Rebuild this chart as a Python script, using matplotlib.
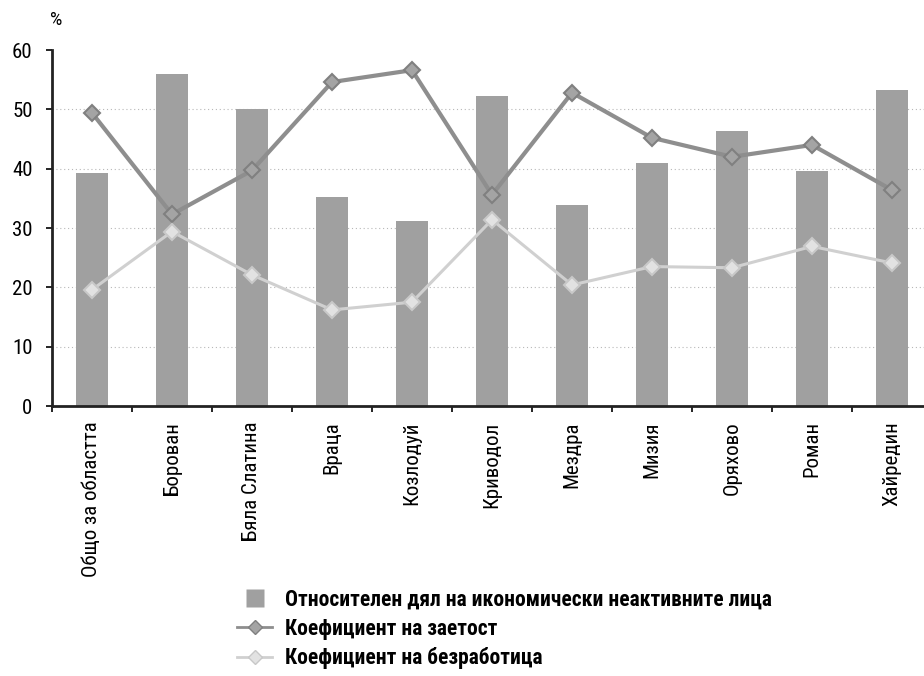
import numpy as np
import matplotlib
matplotlib.use("Agg")
import matplotlib.pyplot as plt
from matplotlib.lines import Line2D

plt.rcParams['font.family'] = ['Roboto Condensed', 'DejaVu Sans']

# municipalities
categories = ["Общо за областта", "Борован", "Бяла Слатина", "Враца", "Козлодуй",
              "Криводол", "Мездра", "Мизия", "Оряхово", "Роман", "Хайредин"]
# relative share of economically inactive people, %
inactive = [39.2, 56.0, 50.1, 35.3, 31.2, 52.2, 33.8, 41.0, 46.3, 39.6, 53.3]
# employment rate, %
employment = [49.4, 32.3, 39.7, 54.6, 56.6, 35.6, 52.8, 45.2, 42.0, 44.0, 36.4]
# unemployment rate, %
unemployment = [19.6, 29.4, 22.1, 16.2, 17.5, 31.4, 20.4, 23.5, 23.3, 26.9, 24.1]

yticks = [0, 10, 20, 30, 40, 50, 60]

labels_legend = ["Относителен дял на икономически неактивните лица",
                 "Коефициент на заетост",
                 "Коефициент на безработица"]

bar_col = "#a0a0a0"
emp_col = "#8e8e8e"
unemp_col = "#d0d0d0"

fig = plt.figure(figsize=(9.24, 6.76), dpi=100)
ax = fig.add_axes([52/924, 270/676, 880/924, 356/676])

x = np.arange(len(categories)) + 0.5
ax.bar(x, inactive, width=0.4, color=bar_col, zorder=2)
ax.plot(x, employment, color=emp_col, lw=3, marker="D", ms=8,
        mfc="#a4a4a4", mec="#808080", mew=1.5, zorder=3)
ax.plot(x, unemployment, color=unemp_col, lw=2.2, marker="D", ms=8,
        mfc="#e2e2e2", mec="#c8c8c8", mew=1.5, zorder=3)

ax.set_xlim(0, 11)
ax.set_ylim(0, 60)
ax.set_yticks(yticks)
ax.set_yticklabels([str(v) for v in yticks], fontsize=15)
for v in yticks[1:-1]:
    ax.axhline(v, color="#b8b8b8", lw=0.8, ls=(0, (1, 2.5)), zorder=1)

ax.set_xticks(np.arange(0, 12))
ax.set_xticklabels([])
ax.set_xticks(x, minor=True)
ax.set_xticklabels(categories, minor=True, rotation=90, fontsize=15, va="top")
ax.tick_params(axis="x", which="minor", length=0, pad=11)
ax.tick_params(axis="x", which="major", length=4, width=1.2, direction="out")
ax.tick_params(axis="y", length=4, width=1.2, direction="out", pad=10)

for s in ["top", "right"]:
    ax.spines[s].set_visible(False)
for s in ["left", "bottom"]:
    ax.spines[s].set_linewidth(2)
    ax.spines[s].set_color("#222222")

fig.text(50/924, 1 - 20/676, "%", fontsize=14, ha="left", va="center")

handles = [Line2D([], [], ls="none", marker="s", ms=13, mfc=bar_col, mec="none"),
           Line2D([], [], color=emp_col, lw=2, marker="D", ms=7, mfc="#a4a4a4", mec="#808080"),
           Line2D([], [], color=unemp_col, lw=2, marker="D", ms=7, mfc="#e2e2e2", mec="#c8c8c8")]
fig.legend(handles, labels_legend, loc="upper left", bbox_to_anchor=(218/924, 1 - 569/676),
           frameon=False, handlelength=1.6, handletextpad=0.6, labelspacing=0.35,
           borderpad=0.4, prop={"family": "Roboto Condensed", "weight": "bold", "size": 15.5})

fig.savefig("out.png", dpi=100)
